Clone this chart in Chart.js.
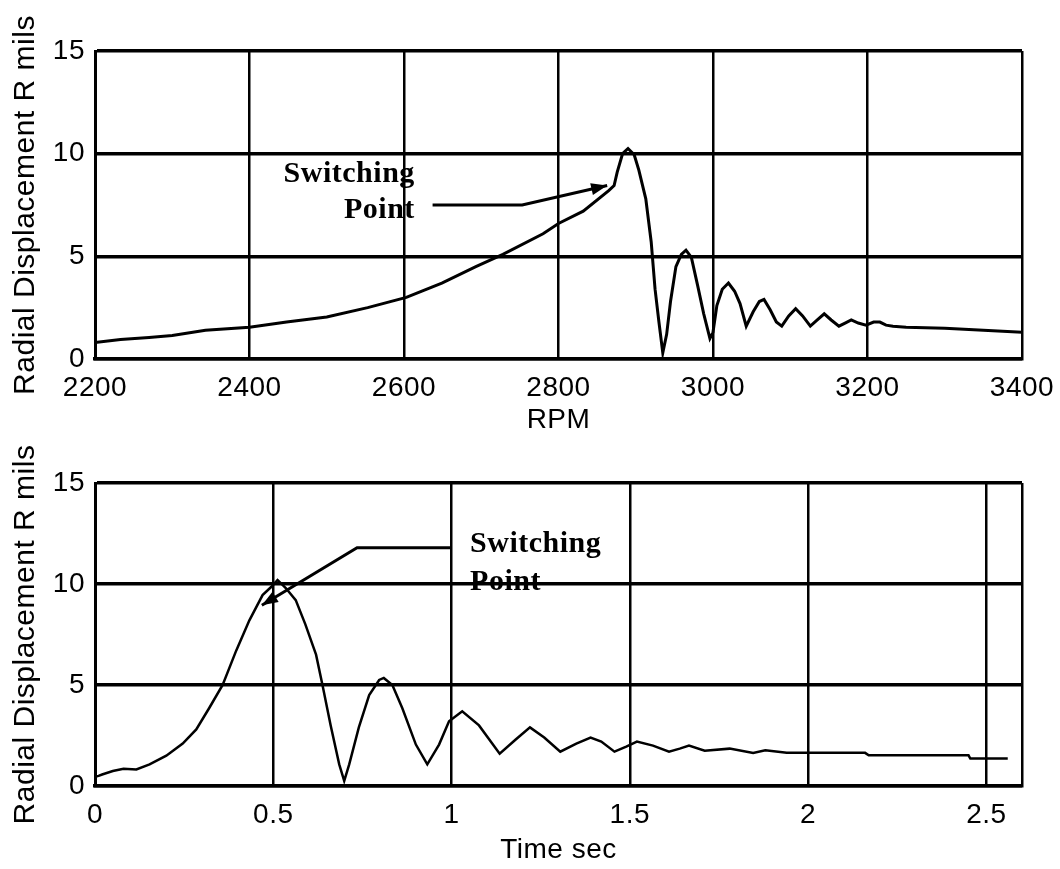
<!DOCTYPE html>
<html>
<head>
<meta charset="utf-8">
<script src="https://cdn.jsdelivr.net/npm/chart.js@4.4.1/dist/chart.umd.min.js"></script>
<style>
  html, body { margin: 0; padding: 0; background: #fff; }
  #wrap { position: relative; width: 1060px; height: 869px; overflow: hidden; }
  canvas { position: absolute; left: 0; }
  #c1 { top: 0; }
  #c2 { top: 440px; }
</style>
</head>
<body>
<div id="wrap">
  <canvas id="c1" width="1060" height="440"></canvas>
  <canvas id="c2" width="1060" height="429"></canvas>
</div>
<script>
// ---------- DATA ----------
const rpmTop = [2200, 2233, 2270, 2300, 2343, 2400, 2448, 2500, 2553, 2603, 2649, 2693, 2728, 2780, 2800, 2832, 2865, 2872, 2876, 2883, 2890, 2898, 2904, 2913, 2920, 2925, 2930, 2935, 2940, 2945, 2952, 2959, 2965, 2972, 2980, 2988, 2996, 3000, 3005, 3012, 3020, 3028, 3035, 3043, 3052, 3060, 3066, 3074, 3082, 3089, 3098, 3107, 3116, 3126, 3135, 3144, 3153, 3163, 3171, 3179, 3188, 3198, 3208, 3216, 3224, 3233, 3250, 3300, 3350, 3400];
const radialTop = [0.8, 0.95, 1.05, 1.15, 1.4, 1.55, 1.8, 2.05, 2.5, 3.0, 3.7, 4.5, 5.1, 6.1, 6.6, 7.2, 8.2, 8.45, 9.1, 10.0, 10.25, 9.95, 9.2, 7.8, 5.7, 3.4, 1.8, 0.3, 1.2, 2.8, 4.5, 5.1, 5.3, 4.95, 3.6, 2.2, 1.0, 1.3, 2.6, 3.4, 3.7, 3.3, 2.7, 1.6, 2.3, 2.8, 2.9, 2.4, 1.8, 1.6, 2.1, 2.45, 2.1, 1.6, 1.9, 2.2, 1.9, 1.6, 1.75, 1.9, 1.75, 1.65, 1.8, 1.8, 1.65, 1.6, 1.55, 1.5, 1.4, 1.3];

const timeBottom = [0, 0.01, 0.02, 0.05, 0.08, 0.116, 0.153, 0.2, 0.246, 0.284, 0.32, 0.358, 0.396, 0.433, 0.47, 0.494, 0.512, 0.535, 0.563, 0.59, 0.62, 0.638, 0.661, 0.685, 0.699, 0.713, 0.74, 0.769, 0.797, 0.81, 0.834, 0.862, 0.9, 0.932, 0.965, 0.993, 1.03, 1.077, 1.135, 1.18, 1.22, 1.26, 1.305, 1.35, 1.39, 1.42, 1.457, 1.49, 1.52, 1.565, 1.61, 1.64, 1.666, 1.71, 1.78, 1.846, 1.88, 1.94, 2.02, 2.16, 2.17, 2.45, 2.455, 2.56];
const radialBottom = [0.45, 0.5, 0.57, 0.74, 0.85, 0.82, 1.07, 1.5, 2.1, 2.8, 3.85, 5.0, 6.7, 8.2, 9.45, 9.85, 10.2, 9.8, 9.2, 8.0, 6.5, 5.0, 3.0, 1.07, 0.25, 1.07, 2.9, 4.5, 5.25, 5.35, 5.0, 3.85, 2.05, 1.07, 2.05, 3.2, 3.7, 3.0, 1.6, 2.3, 2.9, 2.4, 1.7, 2.1, 2.4, 2.2, 1.7, 1.95, 2.2, 2.0, 1.7, 1.85, 2.0, 1.75, 1.85, 1.64, 1.77, 1.65, 1.64, 1.64, 1.52, 1.52, 1.36, 1.36];

const yTicks = [0, 5, 10, 15];
const rpmTicks = [2200, 2400, 2600, 2800, 3000, 3200, 3400];
const timeTicks = [0, 0.5, 1, 1.5, 2, 2.5];

const yTitle = 'Radial Displacement R mils';
const xTitleTop = 'RPM';
const xTitleBottom = 'Time sec';
const noteLines = ['Switching', 'Point'];

// annotation anchors (data coordinates)
const noteTop = { align: 'right', x: 2614, ys: [8.6, 6.85], arrow: [[2637, 7.5], [2753, 7.5], [2863, 8.45]] };
const noteBottom = { align: 'left', x: 1.052, ys: [11.6, 9.7], arrow: [[1.0, 11.8], [0.735, 11.8], [0.468, 8.95]] };

// ---------- STYLE ----------
const FONT = "'Liberation Sans', Arial, sans-serif";
const SERIF = "'Liberation Serif', 'Times New Roman', serif";

const spacingPlugin = {
  id: 'spacing',
  beforeDraw(chart) { chart.ctx.letterSpacing = '0.5px'; },
  afterDraw(chart) { chart.ctx.letterSpacing = '0px'; }
};

const notePlugin = {
  id: 'note',
  afterDatasetsDraw(chart, args, opts) {
    const n = opts.note; if (!n) return;
    const ctx = chart.ctx, xs = chart.scales.x, ys = chart.scales.y;
    ctx.save();
    ctx.letterSpacing = '0.5px';
    ctx.fillStyle = '#000';
    ctx.font = "bold 30px " + SERIF;
    ctx.textAlign = n.align;
    ctx.textBaseline = 'alphabetic';
    noteLines.forEach((t, i) => ctx.fillText(t, xs.getPixelForValue(n.x), ys.getPixelForValue(n.ys[i])));
    const pts = n.arrow.map(p => [xs.getPixelForValue(p[0]), ys.getPixelForValue(p[1])]);
    ctx.strokeStyle = '#000';
    ctx.lineWidth = 3;
    ctx.beginPath();
    ctx.moveTo(pts[0][0], pts[0][1]);
    for (let i = 1; i < pts.length; i++) ctx.lineTo(pts[i][0], pts[i][1]);
    ctx.stroke();
    const a = pts[pts.length - 1], b = pts[pts.length - 2];
    const ang = Math.atan2(a[1] - b[1], a[0] - b[0]);
    const L = 16, W = 6;
    ctx.beginPath();
    ctx.moveTo(a[0], a[1]);
    ctx.lineTo(a[0] - L * Math.cos(ang) + W * Math.sin(ang), a[1] - L * Math.sin(ang) - W * Math.cos(ang));
    ctx.lineTo(a[0] - L * Math.cos(ang) - W * Math.sin(ang), a[1] - L * Math.sin(ang) + W * Math.cos(ang));
    ctx.closePath();
    ctx.fill();
    ctx.restore();
  }
};

function makeChart(id, xs, ys, xMin, xMax, xTickList, xTitle, padTop, xAxisH, titlePadB, lineW, note) {
  const data = xs.map((x, i) => ({ x: x, y: ys[i] }));
  return new Chart(document.getElementById(id), {
    type: 'line',
    data: { datasets: [{ data: data, borderColor: '#000', borderWidth: lineW, pointRadius: 0, tension: 0, fill: false }] },
    options: {
      responsive: false, animation: false, devicePixelRatio: 1,
      layout: { padding: { top: padTop, right: 38, left: 0, bottom: 0 } },
      plugins: { legend: { display: false }, tooltip: { enabled: false }, note: { note: note } },
      scales: {
        x: {
          type: 'linear', min: xMin, max: xMax,
          afterFit(s) { s.height = xAxisH; s.paddingLeft = 0; s.paddingRight = 0; },
          afterBuildTicks(s) {
            const t = xTickList.map(v => ({ value: v }));
            if (xTickList[xTickList.length - 1] < xMax) t.push({ value: xMax });
            s.ticks = t;
          },
          ticks: {
            color: '#000', font: { family: FONT, size: 28 }, padding: 12, maxRotation: 0, autoSkip: false,
            callback: v => (xTickList.indexOf(v) >= 0 ? String(v) : '')
          },
          grid: { color: '#000', lineWidth: 2.5, drawTicks: false },
          border: { display: true, color: '#000', width: 3.5 },
          title: { display: true, text: xTitle, color: '#000', font: { family: FONT, size: 28 }, padding: { top: 0, bottom: titlePadB } }
        },
        y: {
          type: 'linear', min: 0, max: 15,
          afterFit(s) { s.width = 95; s.paddingTop = 0; s.paddingBottom = 0; },
          afterBuildTicks(s) { s.ticks = yTicks.map(v => ({ value: v })); },
          ticks: { color: '#000', font: { family: FONT, size: 28 }, padding: 10 },
          grid: { color: '#000', lineWidth: 3.5, drawTicks: false },
          border: { display: true, color: '#000', width: 3 },
          title: { display: true, text: yTitle, color: '#000', font: { family: FONT, size: 30 }, padding: { top: 8, bottom: 0 } }
        }
      }
    },
    plugins: [spacingPlugin, notePlugin]
  });
}

makeChart('c1', rpmTop, radialTop, 2200, 3400, rpmTicks, xTitleTop, 51, 81, 3, 3, noteTop);
makeChart('c2', timeBottom, radialBottom, 0, 2.6, timeTicks, xTitleBottom, 43, 83, 2, 2.5, noteBottom);
</script>
</body>
</html>
